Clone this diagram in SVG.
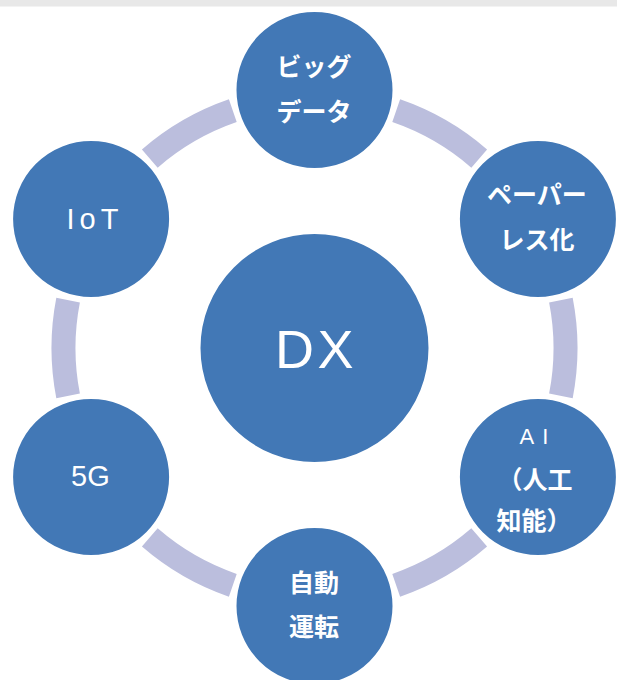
<svg xmlns="http://www.w3.org/2000/svg" width="617" height="680" viewBox="0 0 617 680">
<style>
.seg{fill:none;stroke:#bbbedd;stroke-width:24;stroke-linecap:butt}
.node{fill:#4278b6;stroke:#ffffff;stroke-width:2}
.lat{font-family:"Liberation Sans",Arial,sans-serif;fill:#ffffff;text-anchor:middle}
.jp{font-family:"Noto Sans CJK JP","Liberation Sans",sans-serif;font-weight:bold;font-size:25px;fill:#ffffff;text-anchor:middle}
</style>
<rect x="0" y="0" width="617" height="680" fill="#ffffff"/>
<rect x="0" y="0" width="617" height="6.5" fill="#e8e8e8"/>
<g id="connectors">
<path class="seg" d="M396.2,110.7 A251,251 0 0 1 479.2,158.6"/>
<path class="seg" d="M560.9,300.1 A251,251 0 0 1 560.9,395.9"/>
<path class="seg" d="M479.2,537.4 A251,251 0 0 1 396.2,585.3"/>
<path class="seg" d="M232.8,585.3 A251,251 0 0 1 149.8,537.4"/>
<path class="seg" d="M68.1,395.9 A251,251 0 0 1 68.1,300.1"/>
<path class="seg" d="M149.8,158.6 A251,251 0 0 1 232.8,110.7"/>
</g>
<g id="node-dx">
<circle class="node" cx="314.5" cy="348" r="115"/>
<text class="lat" x="316" y="368" font-size="54" letter-spacing="3.5">DX</text>
</g>
<g id="node-bigdata">
<circle class="node" cx="314.5" cy="90" r="79"/>
<text class="jp" x="314" y="75.5">ビッグ</text>
<text class="jp" x="314" y="120.5">データ</text>
</g>
<g id="node-paperless">
<circle class="node" cx="537.9" cy="219" r="79"/>
<text class="jp" x="537" y="203.5">ペーパー</text>
<text class="jp" x="537" y="248.5">レス化</text>
</g>
<g id="node-ai">
<circle class="node" cx="537.9" cy="477" r="79"/>
<text class="lat" x="538" y="444" font-size="22" letter-spacing="8">AI</text>
<text class="jp" x="535" y="488.5">（人工</text>
<text class="jp" x="534" y="529.5">知能）</text>
</g>
<g id="node-autodrive">
<circle class="node" cx="314.5" cy="606" r="79"/>
<text class="jp" x="314" y="591.5">自動</text>
<text class="jp" x="314" y="635.5">運転</text>
</g>
<g id="node-5g">
<circle class="node" cx="91.1" cy="477" r="79"/>
<text class="lat" x="90.4" y="486" font-size="29">5G</text>
</g>
<g id="node-iot">
<circle class="node" cx="91.1" cy="219" r="79"/>
<text class="lat" x="95" y="229" font-size="29" letter-spacing="5">IoT</text>
</g>
</svg>
